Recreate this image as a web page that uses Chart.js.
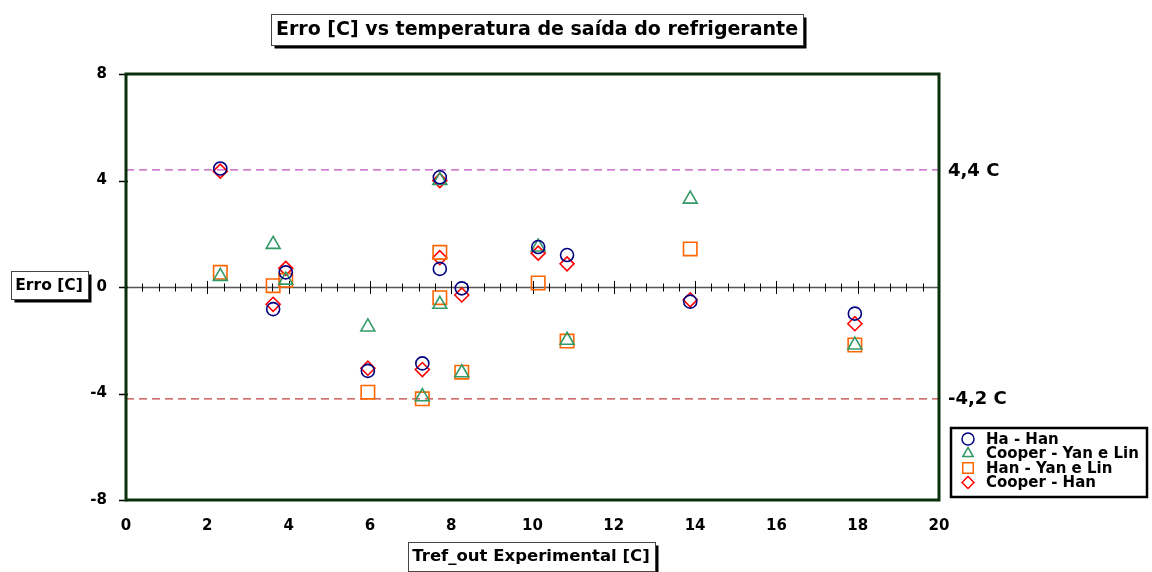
<!DOCTYPE html>
<html>
<head>
<meta charset="utf-8">
<script src="https://cdn.jsdelivr.net/npm/chart.js@4/dist/chart.umd.min.js"></script>
<style>
  html, body { margin: 0; padding: 0; background: #fff; }
  #c { display: block; }
</style>
</head>
<body>
<canvas id="c" width="1152" height="572"></canvas>
<script>
// Erro [C] x Tref_out experimental, quatro combinações de correlações
var tempSaida = [2.32, 3.62, 3.93, 5.95, 7.29, 7.72, 7.72, 8.26, 10.14, 10.85, 13.88, 17.93];
var erroHaHan = [4.45, -0.83, 0.55, -3.15, -2.87, 4.12, 0.68, -0.05, 1.5, 1.2, -0.55, -1.0];
var erroCooperYanLin = [0.4, 1.6, 0.26, -1.5, -4.12, 4.0, -0.65, -3.22, 1.5, -2.0, 3.3, -2.18];
var erroHanYanLin = [0.55, 0.05, 0.25, -3.95, -4.2, 1.3, -0.4, -3.2, 0.15, -2.03, 1.43, -2.18];
var erroCooperHan = [4.35, -0.65, 0.7, -3.05, -3.1, 4.0, 1.1, -0.3, 1.27, 0.87, -0.48, -1.38];

var serieNomes = ["Ha - Han", "Cooper - Yan e Lin", "Han - Yan e Lin", "Cooper - Han"];

// faixas de erro máximo
var limites = [4.4, -4.2];
var limiteTextos = ["4,4 C", "-4,2 C"];

var xMin = 0, xMax = 20, xPasso = 2, xPassoMenor = 0.4;
var yMin = -8, yMax = 8, yPasso = 4;

var titulo = "Erro [C] vs temperatura de saída do refrigerante";
var tituloX = "Tref_out Experimental [C]";
var tituloY = "Erro [C]";

var FONTE = '"DejaVu Sans", Verdana, sans-serif';

function pontos(ys) {
  return ys.map(function (y, i) { return { x: tempSaida[i], y: y }; });
}
function linhaH(v) {
  return [{ x: xMin, y: v }, { x: xMax, y: v }];
}

function caixaTexto(ctx, txt, cx, cy, px, h) {
  ctx.save();
  ctx.font = "bold " + px + "px " + FONTE;
  var w = Math.round(ctx.measureText(txt).width) + 10;
  var x = Math.round(cx - w / 2) + 0.5, y = Math.round(cy - h / 2) + 0.5;
  ctx.fillStyle = "#000";
  ctx.fillRect(x + 3, y + 3, w, h);      // sombra
  ctx.fillStyle = "#fff";
  ctx.fillRect(x, y, w, h);
  ctx.strokeStyle = "#444";
  ctx.lineWidth = 1;
  ctx.strokeRect(x, y, w, h);
  ctx.fillStyle = "#000";
  ctx.textAlign = "center";
  ctx.textBaseline = "middle";
  ctx.fillText(txt, cx, cy + 1);
  ctx.restore();
}

function marcador(ctx, estilo, x, y, r) {
  ctx.beginPath();
  if (estilo === "circle") {
    ctx.arc(x, y, r, 0, Math.PI * 2);
  } else if (estilo === "triangle") {
    ctx.moveTo(x, y - r);
    ctx.lineTo(x + r * 0.87, y + r * 0.5);
    ctx.lineTo(x - r * 0.87, y + r * 0.5);
    ctx.closePath();
  } else if (estilo === "rect") {
    ctx.rect(x - r * 0.75, y - r * 0.75, r * 1.5, r * 1.5);
  } else {
    ctx.moveTo(x, y - r); ctx.lineTo(x + r, y); ctx.lineTo(x, y + r); ctx.lineTo(x - r, y);
    ctx.closePath();
  }
  ctx.stroke();
}

// eixo do zero com marcas, ticks do eixo Y e moldura
var eixoZero = {
  id: "eixoZero",
  beforeDatasetsDraw: function (chart) {
    var ctx = chart.ctx, xs = chart.scales.x, ys = chart.scales.y, a = chart.chartArea;
    var y0 = Math.round(ys.getPixelForValue(0)) + 0.5;
    ctx.save();
    ctx.strokeStyle = "#555";
    ctx.lineWidth = 1.5;
    ctx.beginPath(); ctx.moveTo(a.left, y0); ctx.lineTo(a.right, y0); ctx.stroke();
    ctx.strokeStyle = "#000";
    ctx.lineWidth = 1;
    var n = Math.round((xMax - xMin) / xPassoMenor);
    for (var i = 1; i < n; i++) {
      var v = xMin + i * xPassoMenor;
      var px = Math.round(xs.getPixelForValue(v)) + 0.5;
      var maior = Math.abs(v / xPasso - Math.round(v / xPasso)) < 1e-6;
      var t = maior ? 6.5 : 4;
      ctx.beginPath(); ctx.moveTo(px, y0 - t); ctx.lineTo(px, y0 + t); ctx.stroke();
    }
    ctx.restore();
  },
  afterDatasetsDraw: function (chart) {
    var ctx = chart.ctx, ys = chart.scales.y, a = chart.chartArea;
    ctx.save();
    ctx.strokeStyle = "#000";
    ctx.lineWidth = 1.5;
    for (var v = yMin; v <= yMax; v += yPasso) {
      var py = Math.round(ys.getPixelForValue(v)) + 0.5;
      ctx.beginPath(); ctx.moveTo(a.left - 7, py); ctx.lineTo(a.left + 2, py); ctx.stroke();
    }
    ctx.strokeStyle = "#0b2f0b";
    ctx.lineWidth = 3;
    ctx.strokeRect(a.left, a.top, a.right - a.left, a.bottom - a.top);

    // rótulos das faixas
    ctx.fillStyle = "#000";
    ctx.font = "bold 18px " + FONTE;
    ctx.textAlign = "left";
    ctx.textBaseline = "middle";
    limites.forEach(function (v, i) {
      ctx.fillText(limiteTextos[i], a.right + 9, ys.getPixelForValue(v) + 1);
    });
    ctx.restore();
  },
  afterDraw: function (chart) {
    var ctx = chart.ctx;
    caixaTexto(ctx, titulo, 537, 29, 19, 31);
    caixaTexto(ctx, tituloY, 49, 285, 15.5, 28);
    caixaTexto(ctx, tituloX, 531, 556, 16.5, 29);

    // legenda
    var lx = 951, ly = 428, lw = 196, lh = 69;
    ctx.save();
    ctx.fillStyle = "#fff";
    ctx.fillRect(lx, ly, lw, lh);
    ctx.strokeStyle = "#000";
    ctx.lineWidth = 2.5;
    ctx.strokeRect(lx, ly, lw, lh);
    ctx.font = "bold 15px " + FONTE;
    ctx.textAlign = "left";
    ctx.textBaseline = "middle";
    for (var i = 0; i < 4; i++) {
      var ds = chart.data.datasets[i];
      var cy = ly + 11 + i * 14.5;
      ctx.strokeStyle = ds.pointBorderColor;
      ctx.lineWidth = 1.5;
      marcador(ctx, ds.pointStyle, lx + 17, cy, ds.pointStyle === "rect" ? 7 : 6);
      ctx.fillStyle = "#000";
      ctx.fillText(serieNomes[i], lx + 35, cy + 1);
    }
    ctx.restore();
  }
};

function serie(nome, ys, estilo, cor, raio) {
  return {
    label: nome, data: pontos(ys), showLine: false,
    pointStyle: estilo, pointRadius: raio, pointHoverRadius: raio,
    pointBorderColor: cor, pointBackgroundColor: "rgba(0,0,0,0)", pointBorderWidth: 1.6
  };
}
function faixa(v, cor) {
  return {
    type: "line", data: linhaH(v), borderColor: cor, borderWidth: 1.4,
    borderDash: [8, 5], pointRadius: 0, fill: false
  };
}

new Chart(document.getElementById("c"), {
  type: "scatter",
  data: {
    datasets: [
      serie(serieNomes[0], erroHaHan, "circle", "#000080", 6.5),
      serie(serieNomes[1], erroCooperYanLin, "triangle", "#339966", 8),
      serie(serieNomes[2], erroHanYanLin, "rect", "#ff6600", 9.5),
      serie(serieNomes[3], erroCooperHan, "rectRot", "#ff0000", 7),
      faixa(limites[0], "#c050c0"),
      faixa(limites[1], "#c04040")
    ]
  },
  options: {
    responsive: false,
    animation: false,
    devicePixelRatio: 1,
    layout: { padding: { left: 0, top: 74, right: 213, bottom: 0 } },
    plugins: { legend: { display: false }, title: { display: false }, tooltip: { enabled: false } },
    scales: {
      x: {
        type: "linear", min: xMin, max: xMax,
        grid: { display: false, drawTicks: false }, border: { display: false },
        ticks: { stepSize: xPasso, padding: 17, color: "#000", maxRotation: 0, autoSkip: false,
                 font: { family: FONTE, size: 15, weight: "bold" } },
        afterFit: function (s) { s.height = 72; }
      },
      y: {
        type: "linear", min: yMin, max: yMax,
        grid: { display: false, drawTicks: false }, border: { display: false },
        ticks: { stepSize: yPasso, padding: 19, color: "#000", font: { family: FONTE, size: 15, weight: "bold" } },
        afterFit: function (s) { s.width = 126; }
      }
    }
  },
  plugins: [eixoZero]
});
</script>
</body>
</html>
